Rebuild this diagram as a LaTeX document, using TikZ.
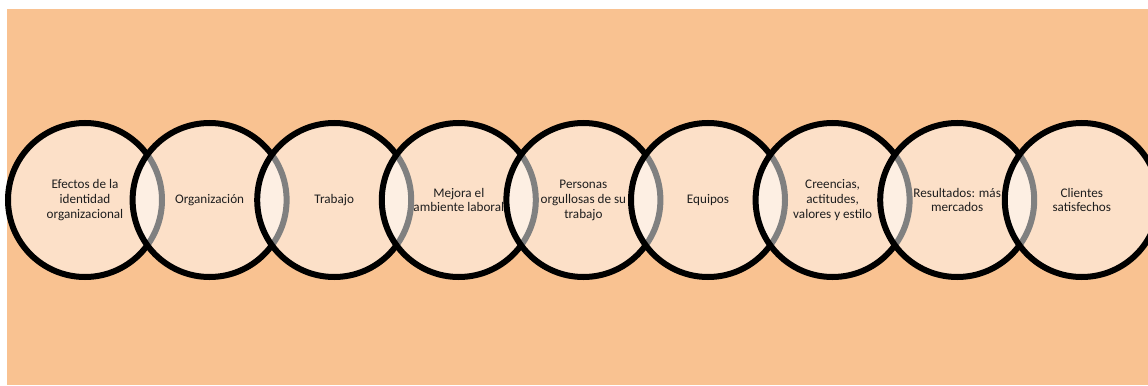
\documentclass[tikz,border=0pt]{standalone}
\usepackage{fontspec}
\setmainfont{Carlito}
\definecolor{bgorange}{RGB}{249,194,145}
\definecolor{txtcol}{RGB}{30,30,30}
\begin{document}
\begin{tikzpicture}[x=1bp,y=1bp,
  vennc/.style={circle, draw=black, line width=6bp, fill=white, fill opacity=0.5,
    draw opacity=1, text opacity=1, minimum size=154bp, inner sep=0pt, align=center,
    font=\fontsize{13.2}{15}\selectfont, text=txtcol}]
\useasboundingbox (0,0) rectangle (1148,385);
\fill[bgorange] (7,0) rectangle (1148,376);
\node[vennc] (c1) at (85,185) {Efectos de la\\identidad\\organizacional};
\node[vennc] (c2) at (209.6,185) {Organización};
\node[vennc] (c3) at (334.2,185) {Trabajo};
\node[vennc] (c4) at (458.8,185) {Mejora el\\ambiente laboral};
\node[vennc] (c5) at (583.4,185) {Personas\\orgullosas de su\\trabajo};
\node[vennc] (c6) at (708,185) {Equipos};
\node[vennc] (c7) at (832.6,185) {Creencias,\\actitudes,\\valores y estilo};
\node[vennc] (c8) at (957.2,185) {Resultados: más\\mercados};
\node[vennc] (c9) at (1081.8,185) {Clientes\\satisfechos};
\end{tikzpicture}
\end{document}
